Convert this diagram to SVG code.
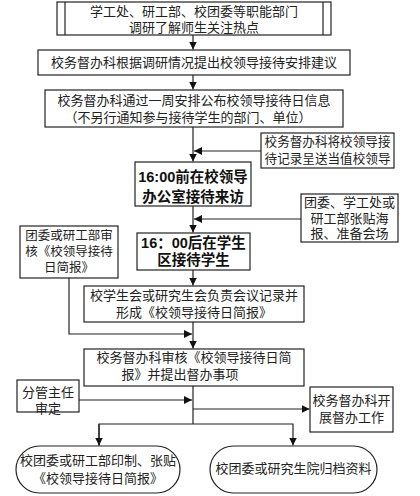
<svg xmlns="http://www.w3.org/2000/svg" width="420" height="496" viewBox="0 0 420 496">
<style>
.b{fill:#fff;stroke:#222;stroke-width:1.2}
.t{font-family:"Liberation Sans","Noto Sans CJK SC",sans-serif;font-size:13px;fill:#222;text-anchor:middle;dominant-baseline:central}
.h{font-family:"Liberation Sans","Noto Sans CJK SC",sans-serif;font-size:14.5px;font-weight:bold;fill:#111;text-anchor:middle;dominant-baseline:central}
.c{fill:none;stroke:#222;stroke-width:1.2}
</style>
<defs>
<marker id="a" viewBox="0 0 10 10" refX="10" refY="5" markerWidth="8" markerHeight="8" markerUnits="userSpaceOnUse" orient="auto">
<path d="M0,0L10,5L0,10z" fill="#111"/>
</marker>
</defs>
<rect width="420" height="496" fill="#fff"/>
<g id="connectors">
<path class="c" d="M193,35V49.5" marker-end="url(#a)"/>
<path class="c" d="M193,75V89.5" marker-end="url(#a)"/>
<path class="c" d="M193,127V161.5" marker-end="url(#a)"/>
<path class="c" d="M261,151H194" marker-end="url(#a)"/>
<path class="c" d="M193,206V232.5" marker-end="url(#a)"/>
<path class="c" d="M301,219H194" marker-end="url(#a)"/>
<path class="c" d="M193,270V285.5" marker-end="url(#a)"/>
<path class="c" d="M193,322V348.5" marker-end="url(#a)"/>
<path class="c" d="M69,278V334H192" marker-end="url(#a)"/>
<path class="c" d="M193,386V424"/>
<path class="c" d="M79,400H192" marker-end="url(#a)"/>
<path class="c" d="M193,409H309.5" marker-end="url(#a)"/>
<path class="c" d="M99,445.5V424H293V445.5" marker-end="url(#a)"/>
<path class="c" d="M99,424V445.5" marker-end="url(#a)"/>
</g>
<g id="n1">
<rect class="b" x="57" y="2" width="274" height="33"/>
<path class="c" d="M65,2V35M323,2V35"/>
<text class="t" x="194" y="11">学工处、研工部、校团委等职能部门</text>
<text class="t" x="194" y="27.5">调研了解师生关注热点</text>
</g>
<g id="n2">
<rect class="b" x="38" y="50" width="312" height="25"/>
<text class="t" x="194" y="62">校务督办科根据调研情况提出校领导接待安排建议</text>
</g>
<g id="n3">
<rect class="b" x="45" y="90" width="298" height="37"/>
<text class="t" x="194" y="100">校务督办科通过一周安排公布校领导接待日信息</text>
<text class="t" x="188" y="117">（不另行通知参与接待学生的部门、单位）</text>
</g>
<g id="n4">
<rect class="b" x="261" y="133" width="133" height="35"/>
<text class="t" x="327.5" y="142" style="font-size:12.6px">校务督办科将校领导接</text>
<text class="t" x="327.5" y="158.5" style="font-size:12.6px">待记录呈送当值校领导</text>
</g>
<g id="n5">
<rect class="b" x="135" y="162" width="116" height="44"/>
<text class="h" x="193" y="176.5">16:00前在校领导</text>
<text class="h" x="193" y="196.5">办公室接待来访</text>
</g>
<g id="n6">
<rect class="b" x="301" y="194" width="97" height="48"/>
<text class="t" x="349.5" y="202.5">团委、学工处或</text>
<text class="t" x="349.5" y="218">研工部张贴海</text>
<text class="t" x="349.5" y="233.5">报、准备会场</text>
</g>
<g id="n7">
<rect class="b" x="20" y="226" width="98" height="52"/>
<text class="t" x="69" y="235.5" style="font-size:12.5px">团委或研工部审</text>
<text class="t" x="69" y="252" style="font-size:12.5px">核《校领导接待</text>
<text class="t" x="69" y="268" style="font-size:12.5px">日简报》</text>
</g>
<g id="n8">
<rect class="b" x="137" y="233" width="113" height="37"/>
<text class="h" x="193.5" y="243">16：00后在学生</text>
<text class="h" x="193.5" y="260">区接待学生</text>
</g>
<g id="n9">
<rect class="b" x="84" y="286" width="220" height="36"/>
<text class="t" x="194" y="295">校学生会或研究生会负责会议记录并</text>
<text class="t" x="194" y="312">形成《校领导接待日简报》</text>
</g>
<g id="n10">
<rect class="b" x="84" y="349" width="220" height="37"/>
<text class="t" x="194" y="357.5">校务督办科审核《校领导接待日简</text>
<text class="t" x="180" y="374.5">报》并提出督办事项</text>
</g>
<g id="n11">
<rect class="b" x="17" y="380" width="62" height="32"/>
<text class="t" x="48" y="392.5">分管主任</text>
<text class="t" x="48" y="408">审定</text>
</g>
<g id="n12">
<rect class="b" x="310" y="387" width="83" height="45"/>
<text class="t" x="351.5" y="400.5">校务督办科开</text>
<text class="t" x="351.5" y="417.5">展督办工作</text>
</g>
<g id="n13">
<rect class="b" x="16" y="446" width="164" height="47" rx="23.5"/>
<text class="t" x="98" y="460">校团委或研工部印制、张贴</text>
<text class="t" x="98" y="478">《校领导接待日简报》</text>
</g>
<g id="n14">
<rect class="b" x="210" y="446" width="167" height="47" rx="23.5"/>
<text class="t" x="293.5" y="468">校团委或研究生院归档资料</text>
</g>
</svg>
